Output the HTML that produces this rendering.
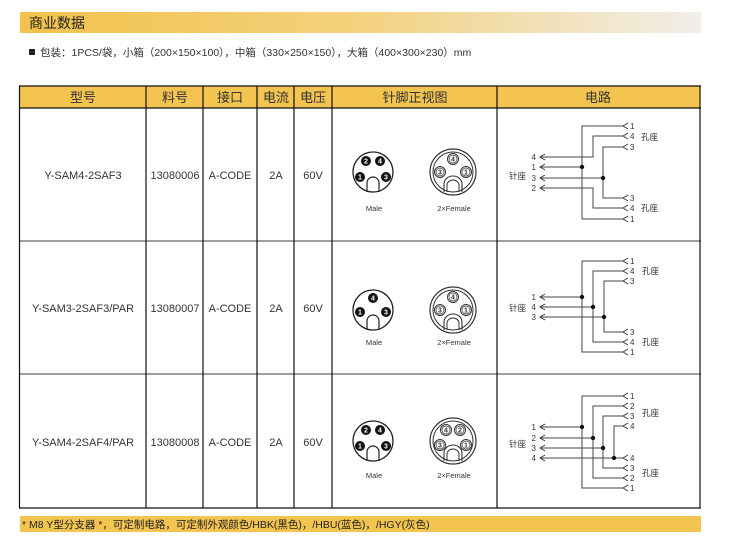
<!DOCTYPE html>
<html><head><meta charset="utf-8"><style>
html,body{margin:0;padding:0;background:#fff;width:750px;height:553px;overflow:hidden}
svg{display:block}
text{font-family:"Liberation Sans","Noto Sans CJK SC",sans-serif}
</style></head><body>
<svg width="750" height="553" viewBox="0 0 750 553" xmlns="http://www.w3.org/2000/svg" fill="#222">
<defs>
<linearGradient id="tg" x1="0" x2="1"><stop offset="0" stop-color="#f2c24a"/><stop offset="0.5" stop-color="#f3d27e"/><stop offset="1" stop-color="#f1eeea"/></linearGradient>
<g id="male">
<circle r="20" fill="#fff" stroke="#222" stroke-width="1.3"/>
<path d="M-6,20 V11 A6,6 0 0 1 6,11 V20" fill="none" stroke="#222" stroke-width="1.2"/>
</g>
<g id="fem">
<circle r="23" fill="#fff" stroke="#333" stroke-width="1.2"/>
<circle r="20" fill="none" stroke="#333" stroke-width="1"/>
<path d="M-9,20 V12 A9,8 0 0 1 9,12 V20" fill="none" stroke="#333" stroke-width="1.1"/>
<path d="M-6,20 V13 A6,5 0 0 1 6,13 V20" fill="none" stroke="#333" stroke-width="1"/>
</g>
<g id="arL" fill="none" stroke="#333" stroke-width="0.9"><path d="M5,-3 L0,0 L5,3"/></g>
</defs>

<rect x="20" y="12" width="681" height="21" fill="url(#tg)"/>
<text x="29" y="28" font-size="14" fill="#222">商业数据</text>
<rect x="29" y="49" width="6" height="6" fill="#222"/>
<text x="40" y="56" font-size="10.5" fill="#333">包装：1PCS/袋，小箱（200×150×100），中箱（330×250×150），大箱（400×300×230）mm</text>

<rect x="20" y="86" width="680" height="22" fill="#f3c44f"/>
<g stroke="#111" stroke-width="1.2" fill="none">
<line x1="19" y1="86" x2="701" y2="86"/>
<line x1="19" y1="108" x2="701" y2="108"/>
<line x1="19" y1="241" x2="701" y2="241" stroke="#666"/>
<line x1="19" y1="374" x2="701" y2="374" stroke="#666"/>
<line x1="19" y1="508" x2="701" y2="508"/>
<line x1="19.5" y1="86" x2="19.5" y2="508"/>
<line x1="146" y1="86" x2="146" y2="508"/>
<line x1="203" y1="86" x2="203" y2="508"/>
<line x1="257" y1="86" x2="257" y2="508"/>
<line x1="294" y1="86" x2="294" y2="508"/>
<line x1="332" y1="86" x2="332" y2="508"/>
<line x1="497" y1="86" x2="497" y2="508"/>
<line x1="700" y1="86" x2="700" y2="508"/>
</g>
<g font-size="13" text-anchor="middle" fill="#333">
<text x="83" y="102">型号</text><text x="175" y="102">料号</text><text x="230" y="102">接口</text>
<text x="276" y="102">电流</text><text x="313" y="102">电压</text><text x="415" y="102">针脚正视图</text><text x="598" y="102">电路</text>
</g>
<g font-size="11" text-anchor="middle" fill="#333">
<text x="83" y="179">Y-SAM4-2SAF3</text><text x="175" y="179">13080006</text><text x="230" y="179">A-CODE</text><text x="276" y="179">2A</text><text x="313" y="179">60V</text>
<text x="83" y="312">Y-SAM3-2SAF3/PAR</text><text x="175" y="312">13080007</text><text x="230" y="312">A-CODE</text><text x="276" y="312">2A</text><text x="313" y="312">60V</text>
<text x="83" y="446">Y-SAM4-2SAF4/PAR</text><text x="175" y="446">13080008</text><text x="230" y="446">A-CODE</text><text x="276" y="446">2A</text><text x="313" y="446">60V</text>
</g>

<g font-size="7" text-anchor="middle" font-weight="bold">
<g transform="translate(373,172)"><use href="#male"/>
<circle cx="-7" cy="-11" r="5" fill="#111"/><text x="-7" y="-8.5" fill="#fff">2</text>
<circle cx="7" cy="-11" r="5" fill="#111"/><text x="7" y="-8.5" fill="#fff">4</text>
<circle cx="-13" cy="5" r="5" fill="#111"/><text x="-13" y="7.5" fill="#fff">1</text>
<circle cx="13" cy="5" r="5" fill="#111"/><text x="13" y="7.5" fill="#fff">3</text></g>
<g transform="translate(453,172)"><use href="#fem"/>
<circle cx="0" cy="-13" r="5.5" fill="#fff" stroke="#333"/><circle cx="0" cy="-13" r="4" fill="none" stroke="#333" stroke-width=".7"/><text x="0" y="-10.5" fill="#333">4</text>
<circle cx="-13" cy="0" r="5.5" fill="#fff" stroke="#333"/><circle cx="-13" cy="0" r="4" fill="none" stroke="#333" stroke-width=".7"/><text x="-13" y="2.5" fill="#333">3</text>
<circle cx="13" cy="0" r="5.5" fill="#fff" stroke="#333"/><circle cx="13" cy="0" r="4" fill="none" stroke="#333" stroke-width=".7"/><text x="13" y="2.5" fill="#333">1</text></g>
<g transform="translate(373,310)"><use href="#male"/>
<circle cx="0" cy="-12" r="5" fill="#111"/><text x="0" y="-9.5" fill="#fff">4</text>
<circle cx="-13" cy="2" r="5" fill="#111"/><text x="-13" y="4.5" fill="#fff">1</text>
<circle cx="13" cy="2" r="5" fill="#111"/><text x="13" y="4.5" fill="#fff">3</text></g>
<g transform="translate(453,310)"><use href="#fem"/>
<circle cx="0" cy="-13" r="5.5" fill="#fff" stroke="#333"/><circle cx="0" cy="-13" r="4" fill="none" stroke="#333" stroke-width=".7"/><text x="0" y="-10.5" fill="#333">4</text>
<circle cx="-13" cy="0" r="5.5" fill="#fff" stroke="#333"/><circle cx="-13" cy="0" r="4" fill="none" stroke="#333" stroke-width=".7"/><text x="-13" y="2.5" fill="#333">3</text>
<circle cx="13" cy="0" r="5.5" fill="#fff" stroke="#333"/><circle cx="13" cy="0" r="4" fill="none" stroke="#333" stroke-width=".7"/><text x="13" y="2.5" fill="#333">1</text></g>
<g transform="translate(373,441)"><use href="#male"/>
<circle cx="-7" cy="-11" r="5" fill="#111"/><text x="-7" y="-8.5" fill="#fff">2</text>
<circle cx="7" cy="-11" r="5" fill="#111"/><text x="7" y="-8.5" fill="#fff">4</text>
<circle cx="-13" cy="5" r="5" fill="#111"/><text x="-13" y="7.5" fill="#fff">1</text>
<circle cx="13" cy="5" r="5" fill="#111"/><text x="13" y="7.5" fill="#fff">3</text></g>
<g transform="translate(453,441)"><use href="#fem"/>
<circle cx="-7" cy="-11" r="5.5" fill="#fff" stroke="#333"/><circle cx="-7" cy="-11" r="4" fill="none" stroke="#333" stroke-width=".7"/><text x="-7" y="-8.5" fill="#333">4</text>
<circle cx="7" cy="-11" r="5.5" fill="#fff" stroke="#333"/><circle cx="7" cy="-11" r="4" fill="none" stroke="#333" stroke-width=".7"/><text x="7" y="-8.5" fill="#333">2</text>
<circle cx="-13" cy="4" r="5.5" fill="#fff" stroke="#333"/><circle cx="-13" cy="4" r="4" fill="none" stroke="#333" stroke-width=".7"/><text x="-13" y="6.5" fill="#333">3</text>
<circle cx="13" cy="4" r="5.5" fill="#fff" stroke="#333"/><circle cx="13" cy="4" r="4" fill="none" stroke="#333" stroke-width=".7"/><text x="13" y="6.5" fill="#333">1</text></g>
</g>
<g font-size="7.5" text-anchor="middle" fill="#333">
<text x="374" y="211">Male</text><text x="454" y="211">2×Female</text>
<text x="374" y="345">Male</text><text x="454" y="345">2×Female</text>
<text x="374" y="478">Male</text><text x="454" y="478">2×Female</text>
</g>

<g fill="none" stroke="#444" stroke-width="1">
<path d="M623,126 H582 V219 H623"/>
<path d="M623,136 H593 V157 H540"/>
<path d="M623,208 H593 V188 H540"/>
<path d="M623,147 H603 V198 H623"/>
<path d="M540,167 H582"/><path d="M540,178 H603"/>
<path d="M623,261 H582 V352 H623"/>
<path d="M623,271 H593 V342 H623"/>
<path d="M623,281 H604 V332 H623"/>
<path d="M540,297 H582"/><path d="M540,307 H593"/><path d="M540,317 H604"/>
<path d="M623,396 H582 V488 H623"/>
<path d="M623,406 H593 V478 H623"/>
<path d="M623,416 H603 V468 H623"/>
<path d="M623,426 H614 V458 H623"/>
<path d="M540,427 H582"/><path d="M540,438 H593"/><path d="M540,448 H603"/><path d="M540,458 H614"/>
</g>
<g fill="#111">
<circle cx="582" cy="167" r="2.2"/><circle cx="603" cy="178" r="2.2"/>
<circle cx="582" cy="297" r="2.2"/><circle cx="593" cy="307" r="2.2"/><circle cx="604" cy="317" r="2.2"/>
<circle cx="582" cy="427" r="2.2"/><circle cx="593" cy="438" r="2.2"/><circle cx="603" cy="448" r="2.2"/><circle cx="614" cy="458" r="2.2"/>
</g>
<g>
<use href="#arL" x="540" y="157"/><use href="#arL" x="540" y="167"/><use href="#arL" x="540" y="178"/><use href="#arL" x="540" y="188"/>
<use href="#arL" x="623" y="126"/><use href="#arL" x="623" y="136"/><use href="#arL" x="623" y="147"/><use href="#arL" x="623" y="198"/><use href="#arL" x="623" y="208"/><use href="#arL" x="623" y="219"/>
<use href="#arL" x="540" y="297"/><use href="#arL" x="540" y="307"/><use href="#arL" x="540" y="317"/>
<use href="#arL" x="623" y="261"/><use href="#arL" x="623" y="271"/><use href="#arL" x="623" y="281"/><use href="#arL" x="623" y="332"/><use href="#arL" x="623" y="342"/><use href="#arL" x="623" y="352"/>
<use href="#arL" x="540" y="427"/><use href="#arL" x="540" y="438"/><use href="#arL" x="540" y="448"/><use href="#arL" x="540" y="458"/>
<use href="#arL" x="623" y="396"/><use href="#arL" x="623" y="406"/><use href="#arL" x="623" y="416"/><use href="#arL" x="623" y="426"/>
<use href="#arL" x="623" y="458"/><use href="#arL" x="623" y="468"/><use href="#arL" x="623" y="478"/><use href="#arL" x="623" y="488"/>
</g>
<g font-size="8" fill="#333">
<g text-anchor="end">
<text x="536" y="160">4</text><text x="536" y="170">1</text><text x="536" y="181">3</text><text x="536" y="191">2</text>
<text x="536" y="300">1</text><text x="536" y="310">4</text><text x="536" y="320">3</text>
<text x="536" y="430">1</text><text x="536" y="441">2</text><text x="536" y="451">3</text><text x="536" y="461">4</text>
</g>
<text x="630" y="129">1</text><text x="630" y="139">4</text><text x="630" y="150">3</text><text x="630" y="201">3</text><text x="630" y="211">4</text><text x="630" y="222">1</text>
<text x="630" y="264">1</text><text x="630" y="274">4</text><text x="630" y="284">3</text><text x="630" y="335">3</text><text x="630" y="345">4</text><text x="630" y="355">1</text>
<text x="630" y="399">1</text><text x="630" y="409">2</text><text x="630" y="419">3</text><text x="630" y="429">4</text><text x="630" y="461">4</text><text x="630" y="471">3</text><text x="630" y="481">2</text><text x="630" y="491">1</text>
<text x="509" y="179" font-size="8.5">针座</text><text x="641" y="140" font-size="8.5">孔座</text><text x="641" y="211" font-size="8.5">孔座</text>
<text x="509" y="311" font-size="8.5">针座</text><text x="642" y="274" font-size="8.5">孔座</text><text x="642" y="345" font-size="8.5">孔座</text>
<text x="509" y="447" font-size="8.5">针座</text><text x="642" y="416" font-size="8.5">孔座</text><text x="642" y="476" font-size="8.5">孔座</text>
</g>

<rect x="20" y="516" width="681" height="16" fill="#f3c44f"/>
<text x="22" y="528" font-size="10.5" fill="#222">* M8 Y型分支器 *，可定制电路，可定制外观颜色/HBK(黑色)，/HBU(蓝色)，/HGY(灰色)</text>
</svg>
</body></html>
